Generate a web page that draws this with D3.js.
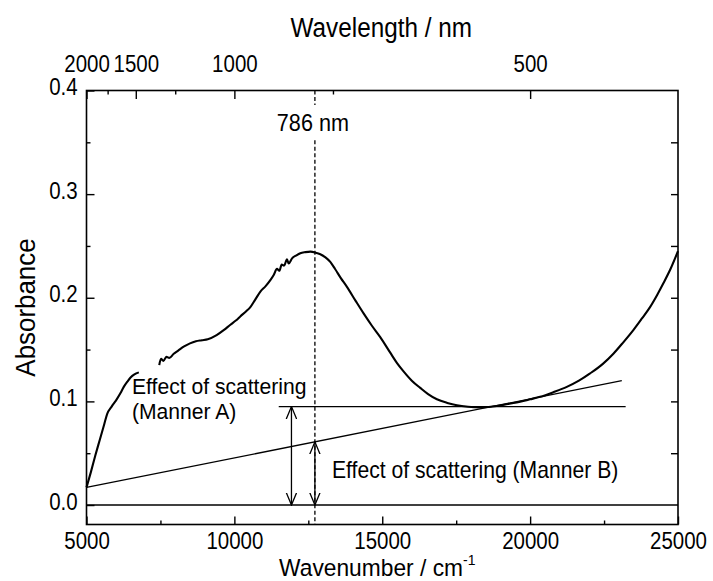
<!DOCTYPE html>
<html><head><meta charset="utf-8">
<script src="https://cdn.jsdelivr.net/npm/d3@7"></script>
<style>
body{margin:0;background:#fff}
svg{display:block}
text{font-family:"Liberation Sans",Arial,Helvetica,sans-serif;fill:#000}
</style>
</head><body>
<svg id="chart" width="713" height="581"></svg>
<script>
// ---- data ----
const seg1Wavenumber = [5000,5150,5300,5450,5600,5700,5850,6000,6150,6260,6380,6490,6620,6770];
const seg1Absorbance = [0.017,0.032,0.048,0.063,0.078,0.088,0.095,0.101,0.108,0.114,0.119,0.123,0.126,0.128];

const seg2Wavenumber = [7460,7520,7600,7700,7800,7950,8100,8300,8500,8700,8900,9100,9400,9650,9865,10050,10200,10400,10540,10700,10880,11050,11216,11330,11441,11520,11600,11680,11780,11835,11950,12100,12230,12400,12570,12750,12905,13080,13243,13400,13600,13806,14100,14369,14650,14932,15270,15500,15720,16000,16284,16550,16848,17200,17524,17900,18311,18600,18874,19250,19662,20000,20338,20800,21240,21650,22027,22450,22815,23150,23490,23780,24054,24300,24505,24750,25000];
const seg2Absorbance = [0.135,0.141,0.139,0.143,0.142,0.146,0.149,0.153,0.156,0.158,0.159,0.160,0.164,0.169,0.174,0.178,0.182,0.187,0.191,0.198,0.206,0.211,0.217,0.222,0.228,0.226,0.232,0.231,0.237,0.233,0.238,0.241,0.243,0.244,0.2445,0.2435,0.242,0.239,0.2346,0.228,0.219,0.2105,0.197,0.1849,0.173,0.162,0.147,0.137,0.129,0.120,0.113,0.107,0.102,0.0985,0.0962,0.0948,0.0942,0.0946,0.0955,0.0975,0.0997,0.102,0.1044,0.109,0.114,0.120,0.127,0.136,0.146,0.157,0.1688,0.180,0.191,0.203,0.214,0.228,0.245];

const xTicks = [5000,10000,15000,20000,25000];
const xMinorTicks = [7500,12500,17500,22500];
const yTicks = [0.0,0.1,0.2,0.3,0.4];
const yMinorTicks = [0.05,0.15,0.25,0.35];
const nmTicks = [2000,1500,1000,500];
const nmMinorTicks = [1750,1250,750];

const markerNm = 786;
const mannerALevel = 0.095;
const mannerAWavenumbers = [11500,23230];
const mannerBWavenumbers = [5000,23100];
const mannerBAbsorbance = [0.017,0.120];
const arrowAWavenumber = 11930;
const dashGapAbsorbance = [0.386,0.352];

// ---- scales ----
const svg = d3.select("#chart");
const L = 86.5, R = 678, T = 90.5, B = 524.5;
const x = d3.scaleLinear().domain([5000,25000]).range([L,R]);
const y = d3.scaleLinear().domain([-0.0188,0.4]).range([B,T]);
const nmToWn = nm => 1e7/nm;

function styleTicks(g, size, sx){
  g.select(".domain").remove();
  g.selectAll(".tick line").attr("stroke","#000").attr("stroke-width",1.4);
  g.selectAll(".tick text").attr("font-size",size+"px")
    .attr("font-family","Liberation Sans, Arial, sans-serif")
    .attr("transform",`scale(${sx},1)`);
}

// bottom axis
svg.append("g").attr("transform",`translate(0,${B})`)
  .call(d3.axisBottom(x).tickValues(xTicks).tickFormat(d3.format("d")).tickSizeInner(-8).tickSizeOuter(0).tickPadding(8))
  .call(g=>styleTicks(g,23,0.89));
svg.append("g").attr("transform",`translate(0,${B})`)
  .call(d3.axisBottom(x).tickValues(xMinorTicks).tickFormat("").tickSizeInner(-4).tickSizeOuter(0))
  .call(g=>styleTicks(g,23,0.89));

// left axis
svg.append("g").attr("transform",`translate(${L},0)`)
  .call(d3.axisLeft(y).tickValues(yTicks).tickFormat(d3.format(".1f")).tickSizeInner(-8).tickSizeOuter(0).tickPadding(10))
  .call(g=>styleTicks(g,23,0.89))
  .call(g=>g.selectAll(".tick text").attr("dy","0.18em"));
svg.append("g").attr("transform",`translate(${L},0)`)
  .call(d3.axisLeft(y).tickValues(yMinorTicks).tickFormat("").tickSizeInner(-4).tickSizeOuter(0))
  .call(g=>styleTicks(g,23,0.89));

// right axis (ticks only)
svg.append("g").attr("transform",`translate(${R},0)`)
  .call(d3.axisRight(y).tickValues(yMinorTicks.concat(yTicks.slice(1,4))).tickFormat("").tickSizeInner(-7).tickSizeOuter(0))
  .call(g=>styleTicks(g,23,0.89));

// top axis (wavelength)
svg.append("g").attr("transform",`translate(0,${T})`)
  .call(d3.axisTop(x).tickValues(nmTicks.map(nmToWn)).tickFormat((d,i)=>nmTicks[i]).tickSizeInner(-8.5).tickSizeOuter(0).tickPadding(19))
  .call(g=>styleTicks(g,23,0.89));
svg.append("g").attr("transform",`translate(0,${T})`)
  .call(d3.axisTop(x).tickValues(nmMinorTicks.map(nmToWn)).tickFormat("").tickSizeInner(-4).tickSizeOuter(0))
  .call(g=>styleTicks(g,23,0.89));

// frame
svg.append("rect").attr("x",L).attr("y",T).attr("width",R-L).attr("height",B-T)
  .attr("fill","none").attr("stroke","#000").attr("stroke-width",1.6);

// zero line
svg.append("line").attr("x1",x(5000)).attr("x2",x(25000)).attr("y1",y(0)).attr("y2",y(0))
  .attr("stroke","#000").attr("stroke-width",1.3);

// spectrum
const line = d3.line().x(d=>x(d[0])).y(d=>y(d[1])).curve(d3.curveMonotoneX);
const seg1 = seg1Wavenumber.map((w,i)=>[w,seg1Absorbance[i]]);
const seg2 = seg2Wavenumber.map((w,i)=>[w,seg2Absorbance[i]]);
[seg1,seg2].forEach(s=>svg.append("path").attr("d",line(s)).attr("fill","none")
  .attr("stroke","#000").attr("stroke-width",2.1).attr("stroke-linejoin","round"));

// scattering lines
svg.append("line").attr("x1",x(mannerAWavenumbers[0])).attr("x2",x(mannerAWavenumbers[1]))
  .attr("y1",y(mannerALevel)).attr("y2",y(mannerALevel)).attr("stroke","#000").attr("stroke-width",1.3);
svg.append("line").attr("x1",x(mannerBWavenumbers[0])).attr("x2",x(mannerBWavenumbers[1]))
  .attr("y1",y(mannerBAbsorbance[0])).attr("y2",y(mannerBAbsorbance[1])).attr("stroke","#000").attr("stroke-width",1.3);

// dashed 786 nm line
const wn786 = nmToWn(markerNm);
svg.append("line").attr("x1",x(wn786)).attr("x2",x(wn786)).attr("y1",y(0.4)).attr("y2",y(dashGapAbsorbance[0]))
  .attr("stroke","#000").attr("stroke-width",1.3).attr("stroke-dasharray","4,2.5");
svg.append("line").attr("x1",x(wn786)).attr("x2",x(wn786)).attr("y1",y(dashGapAbsorbance[1])).attr("y2",y(-0.0188))
  .attr("stroke","#000").attr("stroke-width",1.3).attr("stroke-dasharray","4,2.5");

// arrows
const defs = svg.append("defs");
defs.append("marker").attr("id","chev").attr("viewBox","0 0 13 12").attr("refX",12.5).attr("refY",6)
  .attr("markerWidth",13).attr("markerHeight",12).attr("markerUnits","userSpaceOnUse")
  .attr("orient","auto-start-reverse")
  .append("path").attr("d","M0,0.8 L12.5,6 L0,11.2").attr("fill","none").attr("stroke","#000").attr("stroke-width",1.3);
const slopeB = (mannerBAbsorbance[1]-mannerBAbsorbance[0])/(mannerBWavenumbers[1]-mannerBWavenumbers[0]);
const bAt786 = mannerBAbsorbance[0] + slopeB*(wn786-mannerBWavenumbers[0]);
[[arrowAWavenumber,mannerALevel],[wn786,bAt786]].forEach(([w,top])=>{
  svg.append("line").attr("x1",x(w)).attr("x2",x(w)).attr("y1",y(top)).attr("y2",y(0))
    .attr("stroke","#000").attr("stroke-width",1.3)
    .attr("marker-start","url(#chev)").attr("marker-end","url(#chev)");
});

// texts
function label(px,py,str,size,sx,anchor){
  const g = svg.append("g").attr("transform",`translate(${px},${py})`);
  return g.append("text").attr("transform",`scale(${sx},1)`).attr("font-size",size+"px")
    .attr("text-anchor",anchor||"start").text(str);
}
label(x(wn786)-2,131,markerNm+" nm",23,0.94,"middle");
label(132,394,"Effect of scattering",22,0.96);
label(132,419,"(Manner A)",22,0.96);
label(332,478,"Effect of scattering (Manner B)",23,0.92);

// axis titles
label((L+R)/2-1,37,"Wavelength / nm",27,0.9,"middle");
const xt = label((L+R)/2-5,575.5,"Wavenumber / cm",24.5,0.93,"middle");
xt.append("tspan").attr("font-size","15px").attr("dy","-11").text("-1");
const yt = svg.append("g").attr("transform",`translate(35,${(T+B)/2}) rotate(-90)`);
yt.append("text").attr("transform","scale(0.96,1)").attr("font-size","27px").attr("text-anchor","middle").text("Absorbance");
</script>
</body></html>
